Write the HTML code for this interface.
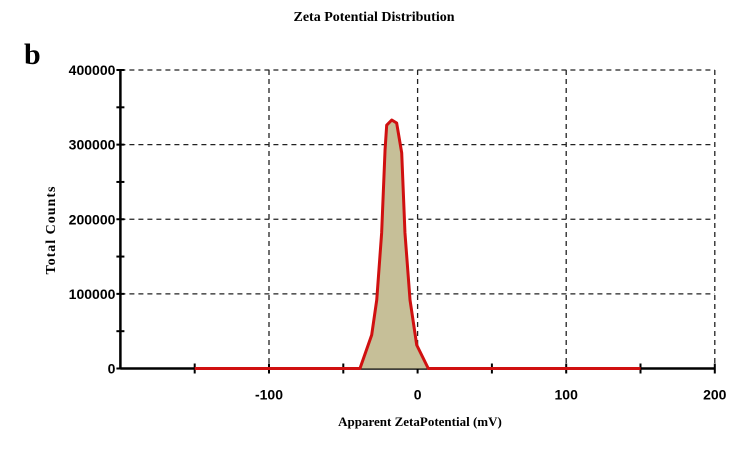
<!DOCTYPE html>
<html><head><meta charset="utf-8"><style>
body{margin:0;background:#fff;}
svg text{font-family:"Liberation Sans",sans-serif;}
</style></head><body>
<svg width="748" height="450" viewBox="0 0 748 450">
<text x="374" y="21" text-anchor="middle" style="font-family:'Liberation Serif',serif" font-weight="bold" font-size="14">Zeta Potential Distribution</text>
<text x="24" y="64" style="font-family:'Liberation Serif',serif" font-weight="bold" font-size="30">b</text>
<g id="grid"></g><g id="axes"></g><g id="series"></g>
<text x="420" y="426" text-anchor="middle" style="font-family:'Liberation Serif',serif" font-weight="bold" font-size="13">Apparent ZetaPotential (mV)</text>
<text transform="translate(55,230) rotate(-90)" text-anchor="middle" style="font-family:'Liberation Serif',serif" font-weight="bold" font-size="14" letter-spacing="1">Total Counts</text>
</svg>
<script>
const xTicks=[-100,0,100,200];
const yTicks=[0,100000,200000,300000,400000];
const mv=[-150,-38.8,-30.9,-27.5,-24.2,-21.9,-20.8,-17.4,-14.1,-10.7,-8.5,-5.1,-0.6,7.2,150];
const counts=[0,0,44900,91800,181600,293000,326000,333000,329000,289000,181600,91800,31500,0,0];
const NS="http://www.w3.org/2000/svg";
const X0=120.4,X1=714.8,Y0=368.5,Y1=70;
const sx=v=>X0+(v+200)/400*(X1-X0);
const sy=v=>Y0-v/400000*(Y0-Y1);
function mk(t,a,p){const e=document.createElementNS(NS,t);for(const k in a)e.setAttribute(k,a[k]);p.appendChild(e);return e;}
const grid=document.getElementById('grid'),ax=document.getElementById('axes'),se=document.getElementById('series');
yTicks.forEach(v=>{if(v===0)return;const l=mk('line',{x1:X0,x2:X1,y1:sy(v),y2:sy(v),stroke:'#222','stroke-width':1.3,'stroke-dasharray':'5,4'},grid);

});
xTicks.forEach(v=>{const l=mk('line',{x1:sx(v),x2:sx(v),y1:Y1,y2:Y0,stroke:'#222','stroke-width':1.3,'stroke-dasharray':'5,4'},grid);

});
const xa=mk('line',{x1:X0,x2:X1,y1:Y0,y2:Y0,stroke:'#000','stroke-width':2.5},ax);


const ya=mk('line',{x1:X0,x2:X0,y1:Y1,y2:Y0,stroke:'#000','stroke-width':2.5},ax);


for(let v=-150;v<=200;v+=50){const t=mk('line',{x1:sx(v),x2:sx(v),y1:Y0-5,y2:Y0+5,stroke:'#000','stroke-width':2},ax);

}
for(let v=0;v<=400000;v+=50000){const t=mk('line',{x1:X0-4,x2:X0+4,y1:sy(v),y2:sy(v),stroke:'#000','stroke-width':2},ax);

}
xTicks.forEach(v=>{const t=mk('text',{x:sx(v),y:Y0+31,'text-anchor':'middle','font-size':14,'font-weight':'bold'},ax);t.textContent=v;

});
yTicks.forEach(v=>{const t=mk('text',{x:X0-5,y:sy(v)+5,'text-anchor':'end','font-size':14,'font-weight':'bold'},ax);t.textContent=v;

});
let pts=mv.map((m,i)=>sx(m)+','+sy(counts[i]));
const area=mk('polygon',{points:pts.join(' '),fill:'#c6bf98',stroke:'none'},se);


const line=mk('polyline',{points:pts.join(' '),fill:'none',stroke:'#d01010','stroke-width':3,'stroke-linejoin':'round'},se);


</script>
</body></html>
